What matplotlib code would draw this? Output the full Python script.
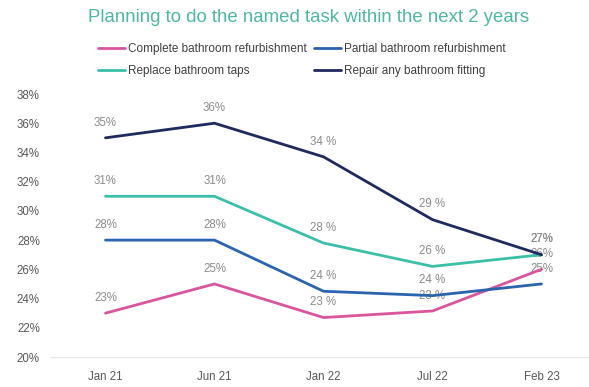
import matplotlib
matplotlib.use("Agg")
import matplotlib.pyplot as plt

plt.rcParams['font.family'] = ['Liberation Sans', 'DejaVu Sans']

# Data
periods = ["Jan 21", "Jun 21", "Jan 22", "Jul 22", "Feb 23"]
complete_refurb = [23, 25, 22.7, 23.15, 26]
partial_refurb = [28, 28, 24.5, 24.2, 25]
replace_taps = [31, 31, 27.8, 26.2, 27]
repair_fitting = [35, 36, 33.7, 29.4, 27]

complete_labels = ["23%", "25%", "23 %", "23 %", "26%"]
partial_labels = ["28%", "28%", "24 %", "24 %", "25%"]
taps_labels = ["31%", "31%", "28 %", "26 %", "27%"]
repair_labels = ["35%", "36%", "34 %", "29 %", "27%"]

series_names = ["Complete bathroom refurbishment", "Partial bathroom refurbishment",
                "Replace bathroom taps", "Repair any bathroom fitting"]
series_values = [complete_refurb, partial_refurb, replace_taps, repair_fitting]
series_labels = [complete_labels, partial_labels, taps_labels, repair_labels]
colors = ["#d9559e", "#2b63ad", "#3cbfa8", "#1f2a5e"]

y_ticks = list(range(20, 40, 2))

fig = plt.figure(figsize=(5.89, 3.87), dpi=100)
ax = fig.add_axes([51 / 589, 30 / 387, 545 / 589, 263 / 387])

x = list(range(len(periods)))
handles = []
for name, vals, labs, col in zip(series_names, series_values, series_labels, colors):
    h, = ax.plot(x, vals, color=col, linewidth=2.0, label=name, zorder=3,
                 solid_capstyle='round')
    handles.append(h)
    for xi, v, lab in zip(x, vals, labs):
        ax.annotate(lab, (xi, v), xytext=(0, 11), textcoords='offset points',
                    ha='center', va='center', fontsize=8.3, color='#8c8c8c', zorder=2)

ax.set_xlim(-0.5, 4.5)
ax.set_ylim(20, 38)
ax.set_yticks(y_ticks)
ax.set_yticklabels([f"{t}%" for t in y_ticks])
ax.set_xticks(x)
ax.set_xticklabels(periods)
ax.tick_params(axis='both', length=0, labelsize=8.3, labelcolor='#595959')
ax.tick_params(axis='y', pad=8)
ax.tick_params(axis='x', pad=10)
for s in ['top', 'right', 'left']:
    ax.spines[s].set_visible(False)
ax.spines['bottom'].set_color('#e6e6e6')
ax.spines['bottom'].set_linewidth(1.0)

fig.text(309 / 589, 1 - 18 / 387, "Planning to do the named task within the next 2 years",
         ha='center', va='center', fontsize=13.4, color='#4db8a2')

# legend fills column-wise, so order handles to read row by row
order = [0, 2, 1, 3]
fig.legend(handles=[handles[i] for i in order],
           labels=[series_names[i] for i in order],
           loc='upper left', bbox_to_anchor=(98 / 589, 1 - 43 / 387), ncol=2,
           frameon=False, fontsize=8.5, handlelength=2.3, handletextpad=0.25,
           columnspacing=0.6, labelspacing=0.85, labelcolor='#404040',
           borderpad=0, borderaxespad=0)

fig.savefig("out.png", dpi=100)
